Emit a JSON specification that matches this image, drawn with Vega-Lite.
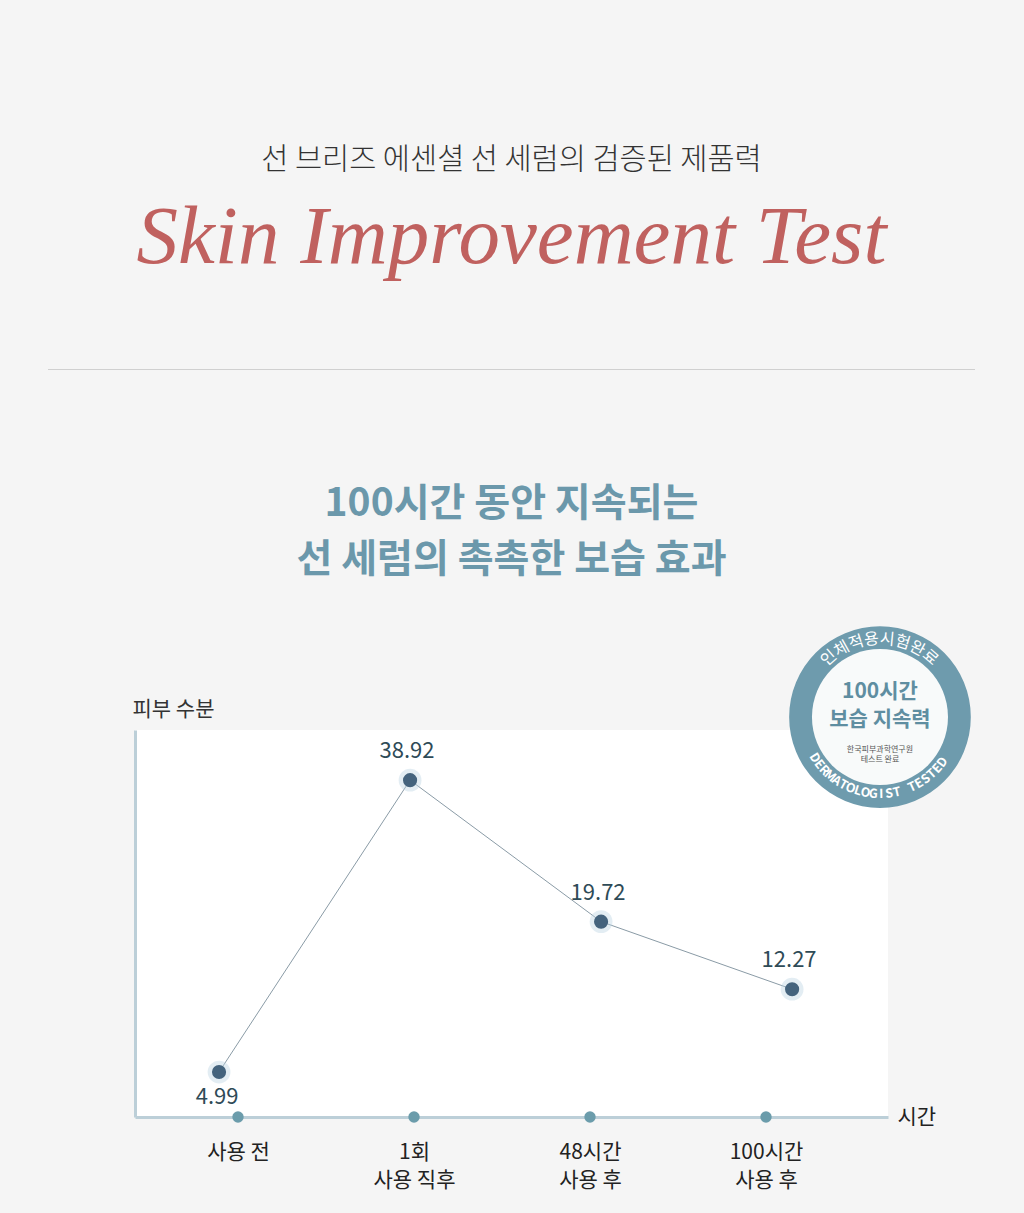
{
  "$schema": "https://vega.github.io/schema/vega-lite/v6.json",
  "background": "#f5f5f5",
  "padding": {"left": 48, "right": 49, "top": 145, "bottom": 27},
  "config": {"font": "Noto Sans CJK KR", "view": {"stroke": null}},
  "spacing": 360,
  "center": true,
  "bounds": "flush",
  "vconcat": [
    {
      "title": {
        "text": "선 브리즈 에센셜 선 세럼의 검증된 제품력",
        "subtitle": "Skin Improvement Test",
        "anchor": "middle",
        "fontSize": 29.5,
        "fontWeight": 300,
        "color": "#333333",
        "subtitleFont": "Liberation Serif",
        "subtitleFontStyle": "italic",
        "subtitleFontSize": 83,
        "subtitleColor": "#c0615f",
        "subtitlePadding": 21,
        "offset": 83
      },
      "width": 927,
      "height": 1,
      "view": {"fill": "#d0d0d0", "stroke": null},
      "data": {"values": [{}]},
      "mark": {"type": "text"},
      "encoding": {}
    },
    {
      "title": {
        "text": ["100시간 동안 지속되는", "선 세럼의 촉촉한 보습 효과"],
        "anchor": "middle",
        "fontSize": 39,
        "fontWeight": "bold",
        "color": "#6b98ab",
        "lineHeight": 56,
        "offset": 46
      },
      "width": 753,
      "height": 387,
      "view": {"fill": "#ffffff", "stroke": null},
      "data": {
        "values": [
          {"time": "사용 전", "order": 0, "value": 4.99},
          {"time": "1회 사용 직후", "order": 1, "value": 38.92},
          {"time": "48시간 사용 후", "order": 2, "value": 19.72},
          {"time": "100시간 사용 후", "order": 3, "value": 12.27}
        ]
      },
      "resolve": {"scale": {"x": "independent"}, "axis": {"x": "independent"}},
      "layer": [
        {
          "layer": [
            {
              "mark": {"type": "line", "color": "#8a9ba6", "strokeWidth": 1},
              "encoding": {
                "x": {
                  "field": "order",
                  "type": "quantitative",
                  "scale": {"domain": [-0.44, 3.502], "nice": false, "zero": false},
                  "axis": {"orient": "bottom", "domain": true, "domainColor": "#bccfd8", "domainWidth": 3, "ticks": false, "labels": false, "grid": false, "title": null}
                },
                "y": {
                  "field": "value",
                  "type": "quantitative",
                  "scale": {"type": "pow", "exponent": 0.65, "domain": [2.093, 46.76], "nice": false, "zero": false},
                  "axis": {
                    "domain": true, "domainColor": "#bccfd8", "domainWidth": 3,
                    "ticks": false, "labels": false, "grid": false,
                    "title": "피부 수분", "titleAngle": 0, "titleAlign": "left", "titleBaseline": "middle",
                    "titleX": -3, "titleY": -21, "titleFontSize": 21, "titleFontWeight": "normal", "titleColor": "#333333"
                  }
                }
              }
            },
            {
              "mark": {"type": "point", "filled": true, "color": "#b9d3e0", "size": 520, "opacity": 0.4},
              "encoding": {"x": {"field": "order", "type": "quantitative"}, "y": {"field": "value", "type": "quantitative"}}
            },
            {
              "mark": {"type": "point", "filled": true, "color": "#44637d", "size": 200, "opacity": 1},
              "encoding": {"x": {"field": "order", "type": "quantitative"}, "y": {"field": "value", "type": "quantitative"}}
            },
            {
              "transform": [{"filter": "datum.value >= 10"}],
              "mark": {"type": "text", "dy": -29, "dx": -3, "fontSize": 22, "color": "#2f4b57"},
              "encoding": {
                "x": {"field": "order", "type": "quantitative"},
                "y": {"field": "value", "type": "quantitative"},
                "text": {"field": "value", "type": "quantitative", "format": ".2f"}
              }
            },
            {
              "transform": [{"filter": "datum.value < 10"}],
              "mark": {"type": "text", "dy": 25, "dx": -2, "fontSize": 22, "color": "#2f4b57"},
              "encoding": {
                "x": {"field": "order", "type": "quantitative"},
                "y": {"field": "value", "type": "quantitative"},
                "text": {"field": "value", "type": "quantitative", "format": ".2f"}
              }
            },
            {
              "data": {"values": [{"badge": "outer"}]},
              "mark": {"type": "point", "filled": true, "color": "#6e9bad", "size": 33000, "opacity": 1},
              "encoding": {"x": {"datum": 3.46}, "y": {"datum": 48.86}}
            },
            {
              "data": {"values": [{"badge": "inner"}]},
              "mark": {"type": "point", "filled": true, "color": "#f8fafa", "size": 18500, "opacity": 1},
              "encoding": {"x": {"datum": 3.46}, "y": {"datum": 48.86}}
            },
            {
              "data": {"values": [{"line": "100시간"}]},
              "mark": {"type": "text", "dy": -25, "baseline": "middle", "fontSize": 21, "fontWeight": "bold", "color": "#5f8ea1"},
              "encoding": {"x": {"datum": 3.46}, "y": {"datum": 48.86}, "text": {"field": "line"}}
            },
            {
              "data": {"values": [{"line": "보습 지속력"}]},
              "mark": {"type": "text", "dy": 3, "baseline": "middle", "fontSize": 21, "fontWeight": "bold", "color": "#5f8ea1"},
              "encoding": {"x": {"datum": 3.46}, "y": {"datum": 48.86}, "text": {"field": "line"}}
            },
            {
              "data": {"values": [{"line": "한국피부과학연구원"}]},
              "mark": {"type": "text", "dy": 33, "baseline": "middle", "fontSize": 8, "color": "#555555"},
              "encoding": {"x": {"datum": 3.46}, "y": {"datum": 48.86}, "text": {"field": "line"}}
            },
            {
              "data": {"values": [{"line": "테스트 완료"}]},
              "mark": {"type": "text", "dy": 43, "baseline": "middle", "fontSize": 8, "color": "#555555"},
              "encoding": {"x": {"datum": 3.46}, "y": {"datum": 48.86}, "text": {"field": "line"}}
            },
            {
              "data": {"values": [{"t": "인체적용시험완료"}]},
              "transform": [
                {"calculate": "split(datum.t, '')", "as": "chars"},
                {"flatten": ["chars"], "as": ["ch"]},
                {"window": [{"op": "row_number", "as": "i"}]},
                {"calculate": "-41 + (datum.i - 1) * 11.6", "as": "a"},
                {"calculate": "78 * sin(datum.a * PI / 180)", "as": "dx"},
                {"calculate": "-78 * cos(datum.a * PI / 180)", "as": "dy"}
              ],
              "mark": {"type": "text", "fontSize": 16, "color": "#ffffff", "baseline": "middle", "align": "center"},
              "encoding": {
                "x": {"datum": 3.46}, "y": {"datum": 48.86},
                "xOffset": {"field": "dx", "type": "quantitative", "scale": null},
                "yOffset": {"field": "dy", "type": "quantitative", "scale": null},
                "angle": {"field": "a", "type": "quantitative", "scale": null},
                "text": {"field": "ch"}
              }
            },
            {
              "data": {"values": [{"t": "DERMATOLOGIST TESTED"}]},
              "transform": [
                {"calculate": "split(datum.t, '')", "as": "chars"},
                {"flatten": ["chars"], "as": ["ch"]},
                {"window": [{"op": "row_number", "as": "i"}]},
                {"calculate": "238 - (datum.i - 1) * 5.9", "as": "a"},
                {"calculate": "77 * sin(datum.a * PI / 180)", "as": "dx"},
                {"calculate": "-77 * cos(datum.a * PI / 180)", "as": "dy"},
                {"calculate": "datum.a - 180", "as": "rot"}
              ],
              "mark": {"type": "text", "fontSize": 12.5, "fontWeight": "bold", "color": "#ffffff", "baseline": "middle", "align": "center"},
              "encoding": {
                "x": {"datum": 3.46}, "y": {"datum": 48.86},
                "xOffset": {"field": "dx", "type": "quantitative", "scale": null},
                "yOffset": {"field": "dy", "type": "quantitative", "scale": null},
                "angle": {"field": "rot", "type": "quantitative", "scale": null},
                "text": {"field": "ch"}
              }
            }
          ]
        },
        {
          "mark": {"type": "point", "filled": true, "color": "#6b9cab", "size": 130, "opacity": 1},
          "encoding": {
            "x": {
              "field": "time",
              "type": "nominal",
              "sort": null,
              "scale": {"type": "point", "range": [103, 631], "padding": 0},
              "axis": {
                "orient": "bottom", "domain": false, "ticks": false, "grid": false,
                "labelExpr": "split(replace(datum.value, ' 사용', '|사용'), '|')",
                "labelFontSize": 21, "labelColor": "#222222", "labelPadding": 24,
                "labelBaseline": "top", "labelLineHeight": 28, "labelAngle": 0,
                "title": "시간", "titleX": 762, "titleY": 0, "titleAlign": "left", "titleBaseline": "middle",
                "titleFontSize": 21, "titleFontWeight": "normal", "titleColor": "#222222"
              }
            },
            "y": {"datum": 2.093}
          }
        }
      ]
    }
  ]
}
